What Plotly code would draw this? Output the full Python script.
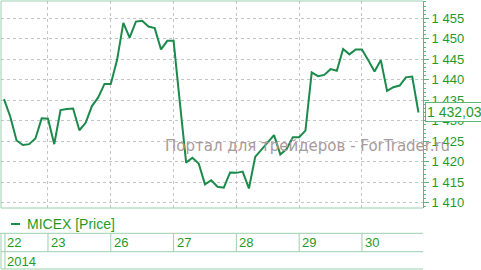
import plotly.graph_objects as go

# ---- data ----
days = ["22", "23", "26", "27", "28", "29", "30"]
day_start = [0, 7, 17, 27, 37, 47, 57]
year_label = "2014"
series_name = "MICEX [Price]"
prices = [
    1435.3, 1431.0, 1425.2, 1424.1, 1424.3, 1425.7, 1430.6,
    1430.5, 1424.3, 1432.6, 1432.9, 1433.0, 1427.7, 1429.5, 1433.6, 1435.7, 1439.0,
    1439.0, 1444.8, 1453.9, 1450.3, 1454.2, 1454.4, 1453.0, 1452.6, 1447.4, 1449.5,
    1449.5, 1434.5, 1419.8, 1421.0, 1419.6, 1414.5, 1415.5, 1413.9, 1413.7, 1417.4,
    1417.3, 1417.6, 1413.5, 1421.2, 1422.9, 1424.6, 1426.5, 1421.8, 1423.1, 1426.0,
    1426.0, 1427.6, 1441.8, 1440.9, 1441.2, 1442.6, 1442.2, 1447.5, 1446.2, 1447.4,
    1447.4, 1444.8, 1442.0, 1444.8, 1437.3, 1438.2, 1438.6, 1440.6, 1440.8, 1432.03,
]
y_ticks = [1410, 1415, 1420, 1425, 1430, 1435, 1440, 1445, 1450, 1455]
y_ticktext = ["1 410", "1 415", "1 420", "1 425", "1 430", "1 435", "1 440", "1 445", "1 450", "1 455"]
last_label = "1 432,03"
watermark = "Портал для трейдеров - ForTrader.ru"

# ---- style ----
LINE = "#1b8a4a"
TXT = "#1f9a2a"
BORD = "#9ccfae"
AXL = "#5cb87a"
GRID = "#c4c4c4"
FONT = "Liberation Sans, Arial, sans-serif"
WFONT = "DejaVu Sans, Verdana, sans-serif"

W, H = 481, 270
L, R, T, B = 1, 58, 1, 62
pw, ph = W - L - R, H - T - B


def px(xp):
    return (xp - L) / pw


def py(yp):
    return (H - B - yp) / ph


x = list(range(len(prices)))

fig = go.Figure()
fig.add_trace(go.Scatter(x=x, y=prices, mode="lines",
                         line=dict(color=LINE, width=2), hoverinfo="skip",
                         name=series_name, showlegend=False))

fig.update_layout(
    width=W, height=H, margin=dict(l=L, r=R, t=T, b=B, pad=0),
    paper_bgcolor="white", plot_bgcolor="white",
    font=dict(family=FONT, color=TXT),
    xaxis=dict(range=[-0.48, 66.72], tickmode="array", tickvals=day_start[1:],
               showticklabels=False, ticks="", showgrid=True, gridcolor=GRID,
               griddash="dot", gridwidth=1, zeroline=False, showline=False),
    yaxis=dict(side="right", range=[1408.73, 1459.22], tickmode="array",
               tickvals=y_ticks, ticktext=y_ticktext, ticks="outside", ticklen=5,
               tickcolor=AXL, tickfont=dict(size=13, color=TXT, family=FONT),
               showgrid=True, gridcolor=GRID, griddash="dot", gridwidth=1,
               zeroline=False, showline=True, linecolor=AXL, linewidth=1,
               minor=dict(tickmode="linear", tick0=1400, dtick=1, ticks="outside",
                          ticklen=2, tickcolor=AXL, showgrid=False)),
)

shapes = []
# plot frame
shapes.append(dict(type="line", xref="paper", yref="paper", x0=0, x1=1, y0=1, y1=1,
                   line=dict(color=BORD, width=1)))
shapes.append(dict(type="line", xref="paper", yref="paper", x0=0, x1=0, y0=0, y1=1,
                   line=dict(color=BORD, width=1)))
shapes.append(dict(type="line", xref="paper", yref="paper", x0=0, x1=1, y0=0, y1=0,
                   line=dict(color=BORD, width=1)))
# table
y_r0, y_r1, y_r2 = py(233.3), py(251.7), py(269)
shapes.append(dict(type="line", xref="paper", yref="paper", x0=px(0), x1=1, y0=y_r0, y1=y_r0,
                   line=dict(color=BORD, width=1)))
for yy in (y_r1, y_r2):
    shapes.append(dict(type="line", xref="paper", yref="paper", x0=0, x1=1, y0=yy, y1=yy,
                       line=dict(color=BORD, width=1)))
shapes.append(dict(type="line", xref="paper", yref="paper", x0=0, x1=0, y0=y_r0, y1=y_r2,
                   line=dict(color=BORD, width=1)))
shapes.append(dict(type="line", xref="x", yref="paper", x0=day_start[0] + 0.15, x1=day_start[0] + 0.15,
                   y0=y_r0, y1=y_r2, line=dict(color=BORD, width=1)))
for ds in day_start[1:]:
    shapes.append(dict(type="line", xref="x", yref="paper", x0=ds, x1=ds, y0=y_r0, y1=y_r1,
                       line=dict(color=BORD, width=1)))
# legend dash
shapes.append(dict(type="line", xref="paper", yref="paper", x0=px(11), x1=px(20),
                   y0=py(224), y1=py(224), line=dict(color=LINE, width=2)))
fig.update_layout(shapes=shapes)

ann = []
for d, ds in zip(days, day_start):
    ann.append(dict(text=d, xref="x", yref="paper", x=ds, y=py(242.5), xanchor="left",
                    yanchor="middle", showarrow=False, xshift=1,
                    font=dict(size=13, color=TXT, family=FONT)))
ann.append(dict(text=year_label, xref="x", yref="paper", x=day_start[0], y=py(261),
                xanchor="left", yanchor="middle", showarrow=False, xshift=1,
                font=dict(size=13, color=TXT, family=FONT)))
ann.append(dict(text=series_name, xref="paper", yref="paper", x=px(25), y=py(224),
                xanchor="left", yanchor="middle", showarrow=False,
                font=dict(size=14, color=TXT, family=FONT)))
ann.append(dict(text=watermark, xref="paper", yref="paper", x=px(163), y=py(146),
                xanchor="left", yanchor="middle", showarrow=False,
                font=dict(size=15, color="#a89a9a", family=WFONT)))
ann.append(dict(text=last_label, xref="paper", yref="y", x=px(425), y=prices[-1],
                xanchor="left", yanchor="middle", showarrow=False,
                bgcolor="white", bordercolor=AXL, borderwidth=1, borderpad=1,
                font=dict(size=14, color=TXT, family=FONT)))
fig.update_layout(annotations=ann)

fig.write_html("out.html")
